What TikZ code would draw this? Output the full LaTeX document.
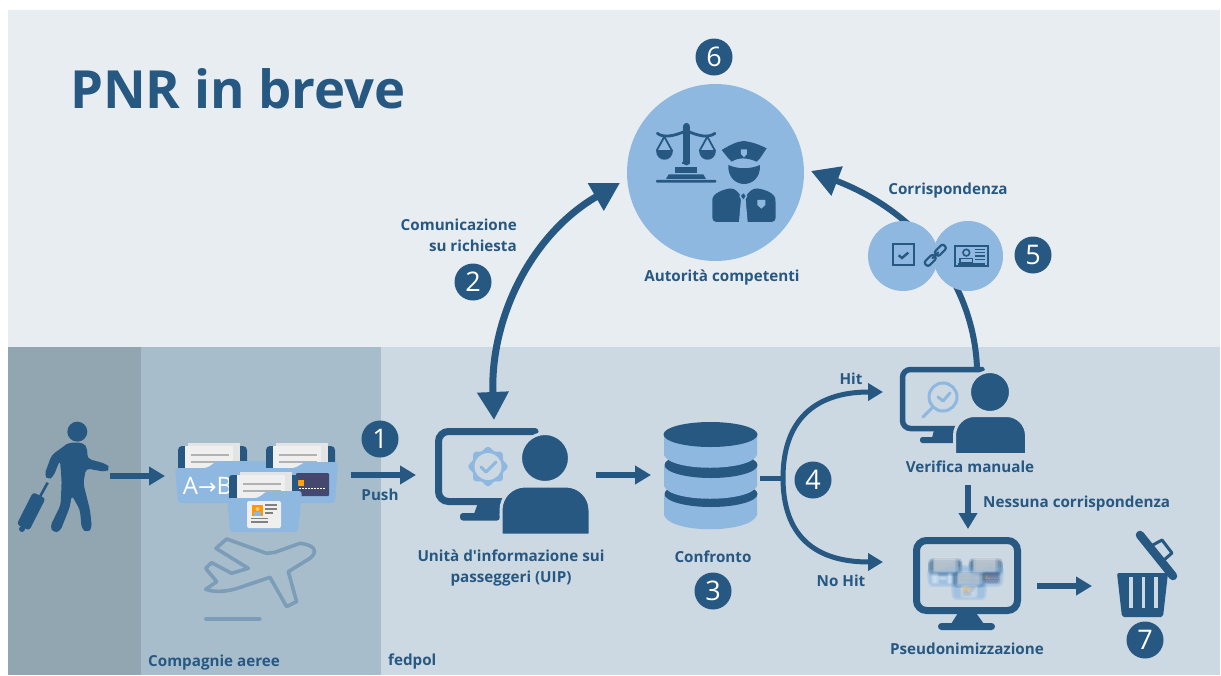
\documentclass[tikz,border=0pt]{standalone}
\usepackage{fontspec}
\setmainfont{Open Sans}
\newfontfamily\arrowfont{DejaVu Sans}
\usetikzlibrary{arrows.meta,calc}
\definecolor{navy}{HTML}{265882}
\definecolor{sky}{HTML}{8FB8E1}
\definecolor{topbg}{HTML}{E8EDF2}
\definecolor{fedbg}{HTML}{CCD8E2}
\definecolor{airbg}{HTML}{A8BDCC}
\definecolor{paxbg}{HTML}{92A6B2}
\definecolor{planec}{HTML}{7C9DB8}
\definecolor{paper}{HTML}{EFEFEF}
\definecolor{paperb}{HTML}{E2E4E6}
\definecolor{cardc}{HTML}{45486E}
\tikzset{
  lab/.style={font=\bfseries\fontsize{15.2}{21}\selectfont,text=navy,inner sep=0pt},
  badge/.style={circle,fill=navy,text=white,minimum size=37pt,inner sep=0pt,font=\fontsize{27}{27}\selectfont},
  flow/.style={draw=navy,line width=5.5pt,-{Triangle[length=16pt,width=18pt]}},
  bigflow/.style={draw=navy,line width=7pt},
  thinflow/.style={draw=navy,line width=5pt},
  icon/.style={fill=navy,draw=none},
  halo/.style={fill=navy,draw=fedbg,line width=3pt},
}
\newcommand{\folderpaper}[2]{% x, y of back paper
  \fill[paperb] (#1,#2) rectangle ++(52,28);
  \fill[paper] (#1-3,#2+3) rectangle ++(48,28);
  \draw[gray!60,line width=1.2pt] (#1+3,#2+12) -- ++(38,0) (#1+3,#2+19) -- ++(38,0);
}
\newcommand{\folderset}[1]{%
  % folder 1
  \fill[navy,rounded corners=4pt] (178,446) rectangle (247,480);
  \folderpaper{188}{443}
  \fill[sky,rounded corners=3pt] (175,468) -- (207,468) -- (217,461) -- (277,461) -- (277,503) -- (178,503) -- cycle;
  #1
  % folder 2
  \fill[navy,rounded corners=4pt] (266,446) rectangle (335,480);
  \folderpaper{276}{443}
  \fill[sky,rounded corners=3pt] (263,468) -- (295,468) -- (305,462) -- (338,462) -- (335,503) -- (266,503) -- cycle;
  \fill[cardc,rounded corners=1pt] (296,473) rectangle (329,496);
  \fill[orange!70!yellow] (298,480) rectangle (304,486);
  \draw[white,line width=.9pt,dash pattern=on 2pt off 1pt] (299,488.5) -- (326,488.5);
  % folder 3
  \fill[navy,rounded corners=3pt] (229,475) rectangle (298,505);
  \folderpaper{240}{472}
  \fill[sky,rounded corners=3pt] (227,498) -- (258,498) -- (267,491) -- (302,491) -- (298,532) -- (230,532) -- cycle;
  \fill[paper,rounded corners=2pt] (247,501) rectangle (281,528);
  \fill[orange!80!yellow] (252,505) rectangle (263,516);
  \fill[sky] (254,516) rectangle (261,512);
  \fill[paper!60!orange] (257.5,509) circle[radius=2];
  \draw[gray,line width=1.1pt] (265,505) -- (277,505) (265,509) -- (277,509) (265,513) -- (273,513) (251,518.5) -- (268,518.5) (251,522) -- (268,522);
}
\newcommand{\minifolders}[2]{%
  \begin{scope}[shift={(847.5+#1,354.2+#2)},scale=0.46,opacity=0.2]
    \folderset{\fill[white] (184,476) rectangle (196,497) (199,484) rectangle (214,488) (218,476) rectangle (226,497);}
  \end{scope}
}
\begin{document}
\begin{tikzpicture}[x=1pt,y=-1pt]
\useasboundingbox (0,0) rectangle (1221,675);
\fill[white] (0,0) rectangle (1221,675);
% panels
\fill[topbg] (8,10) rectangle (1220,347);
\fill[fedbg] (381,347) rectangle (1220,675);
\fill[airbg] (141,347) rectangle (381,675);
\fill[paxbg] (8,347) rectangle (141,675);
% title and labels
\node[anchor=base west,inner sep=0pt,text=navy,font=\bfseries\fontsize{52.6}{52}\selectfont] (title) at (70,108) {PNR in breve};
\node[lab,align=right,anchor=east] (comm) at (517,235.5) {Comunicazione\\su richiesta};
\node[lab] (push) at (380,495) {Push};
\node[lab] (corr) at (948,191) {Corrispondenza};
\node[lab] (auth) at (722,277) {Autorità competenti};
\node[lab] (hit) at (851,379) {Hit};
\node[lab] (nohit) at (841,581) {No Hit};
\node[lab] (verif) at (970,467) {Verifica manuale};
\node[lab,anchor=west] (none) at (983,504) {Nessuna corrispondenza};
\node[lab] (pseudo) at (967,649) {Pseudonimizzazione};
\node[lab,align=center] (uip) at (511,567.5) {Unità d\textquotesingle informazione sui\\passeggeri (UIP)};
\node[lab] (conf) at (713,557) {Confronto};
\node[lab,anchor=west] (airl) at (148,663) {Compagnie aeree};
\node[lab,anchor=west] (fed) at (388,662) {fedpol};
% connector ends
\coordinate (travout) at (110,476);
\coordinate (foldin) at (165,476);
\coordinate (foldout) at (351,475);
\coordinate (uipin) at (416,475);
\coordinate (uipout) at (596,475);
\coordinate (dbin) at (651,475);
\coordinate (dbout) at (760,478);
\coordinate (fork) at (783,478);
\coordinate (verin) at (883,392);
\coordinate (psin) at (883,562);
\coordinate (verout) at (977,368);
\coordinate (authin) at (811,171);
\coordinate (authin2) at (620,183);
\coordinate (uiptop) at (494,420);
\coordinate (verdown) at (968,485);
\coordinate (psdown) at (968,529);
\coordinate (psout) at (1037,586);
\coordinate (binin) at (1092,586);
% connectors
\draw[flow] (travout) -- (foldin);
\draw[flow] (foldout) -- (uipin);
\draw[flow] (uipout) -- (dbin);
\draw[flow] (verdown) -- (psdown);
\draw[flow] (psout) -- (binin);
\draw[thinflow] (dbout) -- (fork);
\draw[thinflow,-{Triangle[length=15pt,width=17pt]}] (fork) .. controls (783,420) and (815,392) .. (verin);
\draw[thinflow,-{Triangle[length=15pt,width=17pt]}] (fork) .. controls (783,536) and (815,562) .. (psin);
\draw[bigflow,{Triangle[length=28pt,width=30pt]}-{Triangle[length=28pt,width=30pt]}] (uiptop) .. controls (490,320) and (530,235) .. (authin2);
\draw[bigflow,line width=6pt,-{Triangle[length=28pt,width=30pt]}] (verout) .. controls (974,290) and (925,215) .. (authin);
% authority circle
\node[circle,fill=sky,minimum size=177pt,inner sep=0pt] (authc) at (715.5,172.5) {};
% match circles
\node[circle,fill=sky,minimum size=70pt,inner sep=0pt] (matcha) at (903,256) {};
\node[circle,fill=sky,minimum size=70pt,inner sep=0pt] (matchb) at (968,256) {};
% scales and police officer (coordinates as in a 3x crop)
\begin{scope}[shift={(600,30)},scale=0.3333]
  \draw[navy,line width=7.5pt,line cap=round] (259,290) -- (259,395);
  \fill[navy] (247,395) rectangle (271,402);
  \draw[navy,line width=2.8pt,line cap=round] (172,310) .. controls (190,325) and (225,318) .. (259,302) .. controls (295,318) and (325,325) .. (345,310);
  \draw[navy,line width=1.8pt] (170,362) -- (193,320) -- (216,362) (299,362) -- (322,320) -- (345,362);
  \fill[navy] (168,360) -- (219,360) .. controls (219,400) and (168,400) .. (168,360) -- cycle;
  \fill[navy] (297,360) -- (348,360) .. controls (348,400) and (297,400) .. (297,360) -- cycle;
  \fill[navy] (226,412) rectangle (292,430);
  \fill[navy] (206,433) -- (310,433) -- (318,447) -- (198,447) -- cycle;
  \fill[navy,rounded corners=1pt] (168,450) rectangle (349,458);
  % cap
  \fill[navy] (365,360) .. controls (390,345) and (410,335) .. (430,333) .. controls (455,335) and (480,345) .. (500,355) -- (480,385) -- (470,395) .. controls (440,382) and (415,382) .. (395,395) -- (385,385) -- cycle;
  \fill[sky] (423,358) -- (441,358) -- (441,372) -- (432,382) -- (423,372) -- cycle;
  \fill[navy] (385,405) .. controls (415,418) and (450,418) .. (480,405) .. controls (482,445) and (455,462) .. (432,462) .. controls (410,462) and (383,445) .. (385,405) -- cycle;
  % body
  \fill[navy,rounded corners=4pt] (337,576) -- (337,520) .. controls (338,490) and (370,478) .. (402,474) -- (430,505) -- (460,474) .. controls (495,478) and (525,490) .. (527,520) -- (527,576) -- cycle;
  \fill[sky] (430,482) -- (442,498) -- (437,508) -- (443,576) -- (417,576) -- (423,508) -- (418,498) -- cycle;
  \fill[navy] (430,490) -- (437,498) -- (430,508) -- (423,498) -- cycle;
  \fill[sky] (472,510) -- (496,510) -- (496,525) -- (484,536) -- (472,525) -- cycle;
  % check box
  \draw[navy,line width=2pt] (878,643) rectangle (943,706);
  \draw[navy,line width=2.4pt] (896,676) -- (906,684) -- (925,668);
  % link
  \draw[navy,line width=2.2pt,rounded corners=2.5pt,rotate around={45:(1006,676)}] (966,667) rectangle (1003,685);
  \draw[navy,line width=2.2pt,rounded corners=2.5pt,rotate around={45:(1006,676)}] (1009,667) rectangle (1046,685);
  \draw[navy,line width=2.2pt,line cap=round,rotate around={45:(1006,676)}] (994,676) -- (1018,676);
  % id card
  \draw[navy,line width=2pt] (1066,647) rectangle (1164,709);
  \draw[navy,line width=1.6pt] (1080,698) -- (1080,685) -- (1118,685) -- (1118,698) -- cycle;
  \draw[navy,line width=1.6pt] (1099,668) circle[radius=10];
  \draw[navy,line width=1.5pt] (1126,658) -- (1154,658) (1126,668) -- (1154,668) (1126,678) -- (1154,678) (1126,688) -- (1154,688) (1074,702) -- (1154,702);
\end{scope}
% passenger (coordinates as in a 3x crop)
\begin{scope}[shift={(0,380)},scale=0.3333]
  \fill[navy] (232,155) circle[radius=30];
  \fill[navy,rounded corners=4pt] (190,200) -- (205,188) -- (250,188) -- (262,205) -- (262,236) -- (320,252) -- (330,265) -- (318,276) -- (258,265) -- (250,310) -- (270,390) -- (276,445) -- (262,458) -- (245,447) -- (240,390) -- (215,345) -- (210,380) -- (180,455) -- (160,458) -- (150,440) -- (182,375) -- (185,305) -- (180,240) -- (160,290) -- (145,300) -- (133,285) -- (155,225) -- cycle;
  \draw[navy,line width=2.6pt] (143,308) -- (120,350);
  \fill[navy,rounded corners=3pt,rotate around={-27:(93,395)}] (72,340) rectangle (114,448);
  \fill[navy] (66,447) circle[radius=9];
\end{scope}
% plane
\begin{scope}[shift={(0,380)},scale=0.3333]
  \draw[planec,line width=3.6pt,line join=round] (617,628) .. controls (650,640) and (690,632) .. (712,625) -- (810,592) -- (860,680) -- (890,665) -- (865,575) -- (930,535) .. controls (955,515) and (945,495) .. (900,490) -- (825,517) -- (800,520) -- (680,477) -- (648,505) -- (745,565) -- (695,580) -- (635,548) -- (617,565) -- (650,605) -- cycle;
  \draw[planec,line width=4pt,line cap=round] (618,717) -- (779,717);
\end{scope}
% folders
\folderset{\node[inner sep=0pt,text=white,font=\fontsize{24}{24}\selectfont] (abtext) at (207.5,486) {A{\arrowfont\fontsize{22}{22}\selectfont →}B};}
% UIP
\draw[navy,line width=7pt,line cap=round,rounded corners=10pt] (535,431.5) -- (438.5,431.5) -- (438.5,501.5) -- (510,501.5);
\fill[navy] (478,503) -- (500,503) -- (500,514) -- (474,514) -- cycle;
\fill[navy,rounded corners=3pt] (460,513) rectangle (500,520.5);
\fill[sky] plot[domain=0:356,samples=90,smooth cycle] ({488+(18+1.6*cos(8*\x))*cos(\x)},{466.5+(18+1.6*cos(8*\x))*sin(\x)});
\fill[fedbg] (488,466.5) circle[radius=13.5];
\draw[sky,line width=3pt,line cap=round,line join=round] (481,467) -- (486,472) -- (496,462);
\draw[halo] (545,458) circle[radius=24.5];
\draw[halo,line join=round] (501,535) {[rounded corners=24pt] -- (501,486) -- (590,486)} -- (590,535) -- cycle;
% database
\fill[sky] (664,495) -- (664,515) .. controls (670,534) and (750,534) .. (757,515) -- (757,495) -- cycle;
\fill[navy] (711,494) ellipse[x radius=46.5,y radius=13];
\fill[sky] (664,466) -- (664,486) .. controls (670,503) and (750,503) .. (757,486) -- (757,466) -- cycle;
\fill[navy] (711,465) ellipse[x radius=46.5,y radius=13];
\fill[sky] (664,434.5) -- (664,455) .. controls (670,472) and (750,472) .. (757,455) -- (757,434.5) -- cycle;
\fill[navy] (710.5,434.5) ellipse[x radius=47,y radius=12.5];
% verification
\draw[navy,line width=5.5pt,line cap=round,rounded corners=8pt] (982,369.5) -- (902.5,369.5) -- (902.5,428.5) -- (965,428.5);
\fill[navy] (934,430) -- (955,430) -- (955,438) -- (932,438) -- cycle;
\fill[navy,rounded corners=2.5pt] (920,437) rectangle (955,443);
\draw[sky,line width=3pt] (943,397) circle[radius=14];
\draw[sky,line width=3pt,line cap=round] (933,407) -- (923,417);
\draw[sky,line width=3pt,line cap=round,line join=round] (938,397) -- (943,401) -- (950,393);
\draw[halo] (990,392) circle[radius=20.5];
\draw[halo,line join=round] (954.5,454.5) {[rounded corners=20pt] -- (954.5,415.5) -- (1026.5,415.5)} -- (1026.5,454.5) -- cycle;
\fill[fedbg] (950,453) rectangle (1030,458);
% pseudonymisation monitor
\minifolders{-1.2}{-1.2}
\minifolders{1.2}{-1.2}
\minifolders{-1.2}{1.2}
\minifolders{1.2}{1.2}
\minifolders{0}{0}
\draw[navy,line width=7pt,rounded corners=10pt] (916.5,540.5) rectangle (1017.5,610.5);
\fill[navy] (958,613) -- (976,613) -- (984,624) -- (951,624) -- cycle;
\fill[navy,rounded corners=3.5pt] (938,623) rectangle (995,630);
% bin
\fill[navy,rounded corners=2pt] (1117,573) -- (1168,573) -- (1163,617) -- (1122,617) -- cycle;
\draw[fedbg,line width=3.5pt] (1131,577) -- (1131,608) (1143.5,577) -- (1143.5,608) (1156,577) -- (1156,608);
\draw[navy,line width=8.5pt,line cap=round] (1140,535) -- (1173,576);
\draw[navy,line width=3pt,line join=round] (1151,546) -- (1162,540) -- (1172,553) -- (1164,560);
% badges
\node[badge] (b1) at (380,439) {1};
\node[badge] (b2) at (473,282) {2};
\node[badge] (b3) at (713,591) {3};
\node[badge] (b4) at (813,480) {4};
\node[badge] (b5) at (1033,255) {5};
\node[badge] (b6) at (714,57) {6};
\node[badge] (b7) at (1145,640) {7};
\end{tikzpicture}
\end{document}
